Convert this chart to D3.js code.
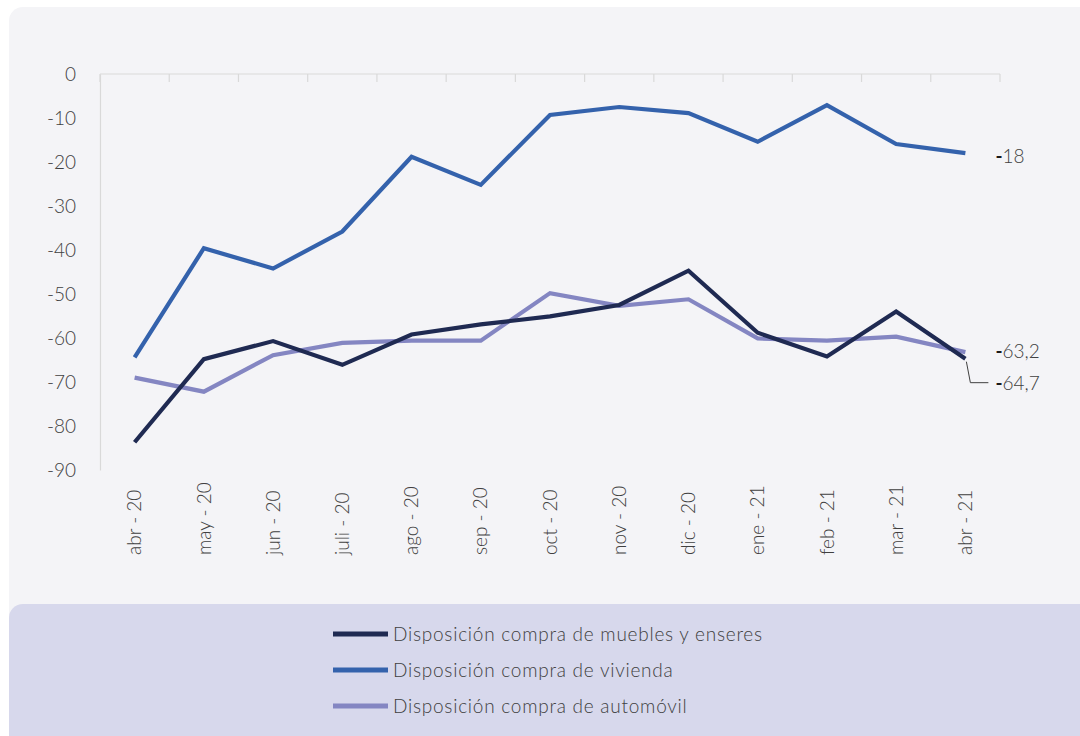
<!DOCTYPE html>
<html lang="es">
<head>
    <meta charset="UTF-8">
    <title>Disposición de compra</title>
    <script src="https://cdnjs.cloudflare.com/ajax/libs/d3/7.8.5/d3.min.js" charset="utf-8"></script>
    <style>
        body { margin: 0; background: #ffffff; }
        text { font-family: Lato, "Open Sans", sans-serif; font-weight: 300; fill: #404040; }
    </style>
</head>
<body>
<svg id="chart" width="1080" height="736"></svg>

<script type="application/javascript">
    var categories = ['abr - 20', 'may - 20', 'jun - 20', 'juli - 20', 'ago - 20', 'sep - 20', 'oct - 20',
        'nov - 20', 'dic - 20', 'ene - 21', 'feb - 21', 'mar - 21', 'abr - 21'];

    var muebles = [-83.7, -64.8, -60.7, -66.1, -59.2, -56.9, -55.1, -52.5, -44.7, -58.8, -64.2, -54.0, -64.7];
    var vivienda = [-64.4, -39.6, -44.2, -35.8, -18.8, -25.2, -9.3, -7.5, -8.9, -15.4, -7.1, -15.9, -18];
    var automovil = [-69.0, -72.2, -63.9, -61.1, -60.6, -60.6, -49.8, -52.7, -51.2, -60.1, -60.6, -59.7, -63.2];

    var yTicks = [0, -10, -20, -30, -40, -50, -60, -70, -80, -90];

    var series = [
        {name: 'Disposición compra de muebles y enseres', values: muebles, color: '#1f2a52', label: '64,7'},
        {name: 'Disposición compra de vivienda', values: vivienda, color: '#3462ac', label: '18'},
        {name: 'Disposición compra de automóvil', values: automovil, color: '#8486c2', label: '63,2'}
    ];

    var svg = d3.select('#chart');

    // background panels
    svg.append('rect')
            .attr('x', 9).attr('y', 7)
            .attr('width', 1100).attr('height', 760)
            .attr('rx', 14)
            .attr('fill', '#f4f4f7');

    svg.append('rect')
            .attr('x', 9).attr('y', 604)
            .attr('width', 1100).attr('height', 160)
            .attr('rx', 14)
            .attr('fill', '#d7d8ec');

    var x = d3.scaleBand().domain(categories).range([100, 1000]).padding(0);
    var y = d3.scaleLinear().domain([-90, 0]).range([470, 74]);

    function cx(d, i) {
        return x(categories[i]) + x.bandwidth() / 2;
    }

    // y axis
    var yAxis = svg.append('g')
            .attr('transform', 'translate(100,0)')
            .call(d3.axisLeft(y).tickValues(yTicks).tickSize(0).tickPadding(24));
    yAxis.select('.domain').attr('stroke', '#d9d9d9').attr('stroke-width', 1.2);
    yAxis.selectAll('text')
            .attr('font-size', '19px')
            .style('font-family', 'Lato, sans-serif')
            .attr('fill', '#404040')
            .text(function (d) { return d === 0 ? '0' : '-' + Math.abs(d); });

    // category axis crossing at 0 (top), ticks on band edges
    var xAxis = svg.append('g');
    xAxis.append('line')
            .attr('x1', x.range()[0]).attr('x2', x.range()[1])
            .attr('y1', y(0)).attr('y2', y(0))
            .attr('stroke', '#d9d9d9').attr('stroke-width', 1.2);
    var edges = categories.map(function (c) { return x(c); }).concat([x.range()[1]]);
    xAxis.selectAll('.edge')
            .data(edges)
            .enter()
            .append('line')
            .attr('x1', function (d) { return d; })
            .attr('x2', function (d) { return d; })
            .attr('y1', y(0)).attr('y2', y(0) + 8)
            .attr('stroke', '#d9d9d9').attr('stroke-width', 1.2);

    svg.selectAll('.xlabel')
            .data(categories)
            .enter()
            .append('text')
            .attr('transform', function (d) {
                return 'translate(' + (x(d) + x.bandwidth() / 2) + ',555) rotate(-90)';
            })
            .attr('dy', '0.35em')
            .attr('text-anchor', 'start')
            .attr('font-size', '19px')
            .text(function (d) { return d; });

    // lines
    var line = d3.line()
            .x(cx)
            .y(function (d) { return y(d); });

    svg.selectAll('.series')
            .data([series[2], series[0], series[1]])
            .enter()
            .append('path')
            .attr('d', function (s) { return line(s.values); })
            .attr('fill', 'none')
            .attr('stroke', function (s) { return s.color; })
            .attr('stroke-width', 4.2)
            .attr('stroke-linejoin', 'miter');

    // end labels (minus drawn heavier, as in the original)
    var last = categories.length - 1;
    var lx = x(categories[last]) + x.bandwidth() / 2;

    function endLabel(text, yy) {
        var t = svg.append('text').attr('x', lx + 30).attr('y', yy).attr('dy', '0.35em')
                .attr('font-size', '19px');
        t.append('tspan').attr('font-weight', 700).attr('fill', '#1a1a1a').text('-');
        t.append('tspan').text(text);
    }

    endLabel(series[1].label, y(vivienda[last]) + 3);
    endLabel(series[2].label, y(automovil[last]) - 1);
    var muY = y(muebles[last]);
    svg.append('path')
            .attr('d', 'M' + (lx + 1) + ',' + (muY + 3) + 'L' + (lx + 5) + ',' + (muY + 24) + 'H' + (lx + 23))
            .attr('fill', 'none').attr('stroke', '#404040').attr('stroke-width', 1);
    endLabel(series[0].label, muY + 25);

    // legend
    var legend = svg.selectAll('.legend')
            .data(series)
            .enter()
            .append('g')
            .attr('transform', function (d, i) { return 'translate(333,' + (634 + i * 36) + ')'; });
    legend.append('line')
            .attr('x1', 0).attr('x2', 55)
            .attr('y1', 0).attr('y2', 0)
            .attr('stroke', function (d) { return d.color; })
            .attr('stroke-width', 5);
    legend.append('text')
            .attr('x', 60)
            .attr('dy', '0.35em')
            .attr('font-size', '19px')
            .attr('letter-spacing', '0.75px')
            .attr('fill', '#333333')
            .text(function (d) { return d.name; });
</script>
</body>
</html>
